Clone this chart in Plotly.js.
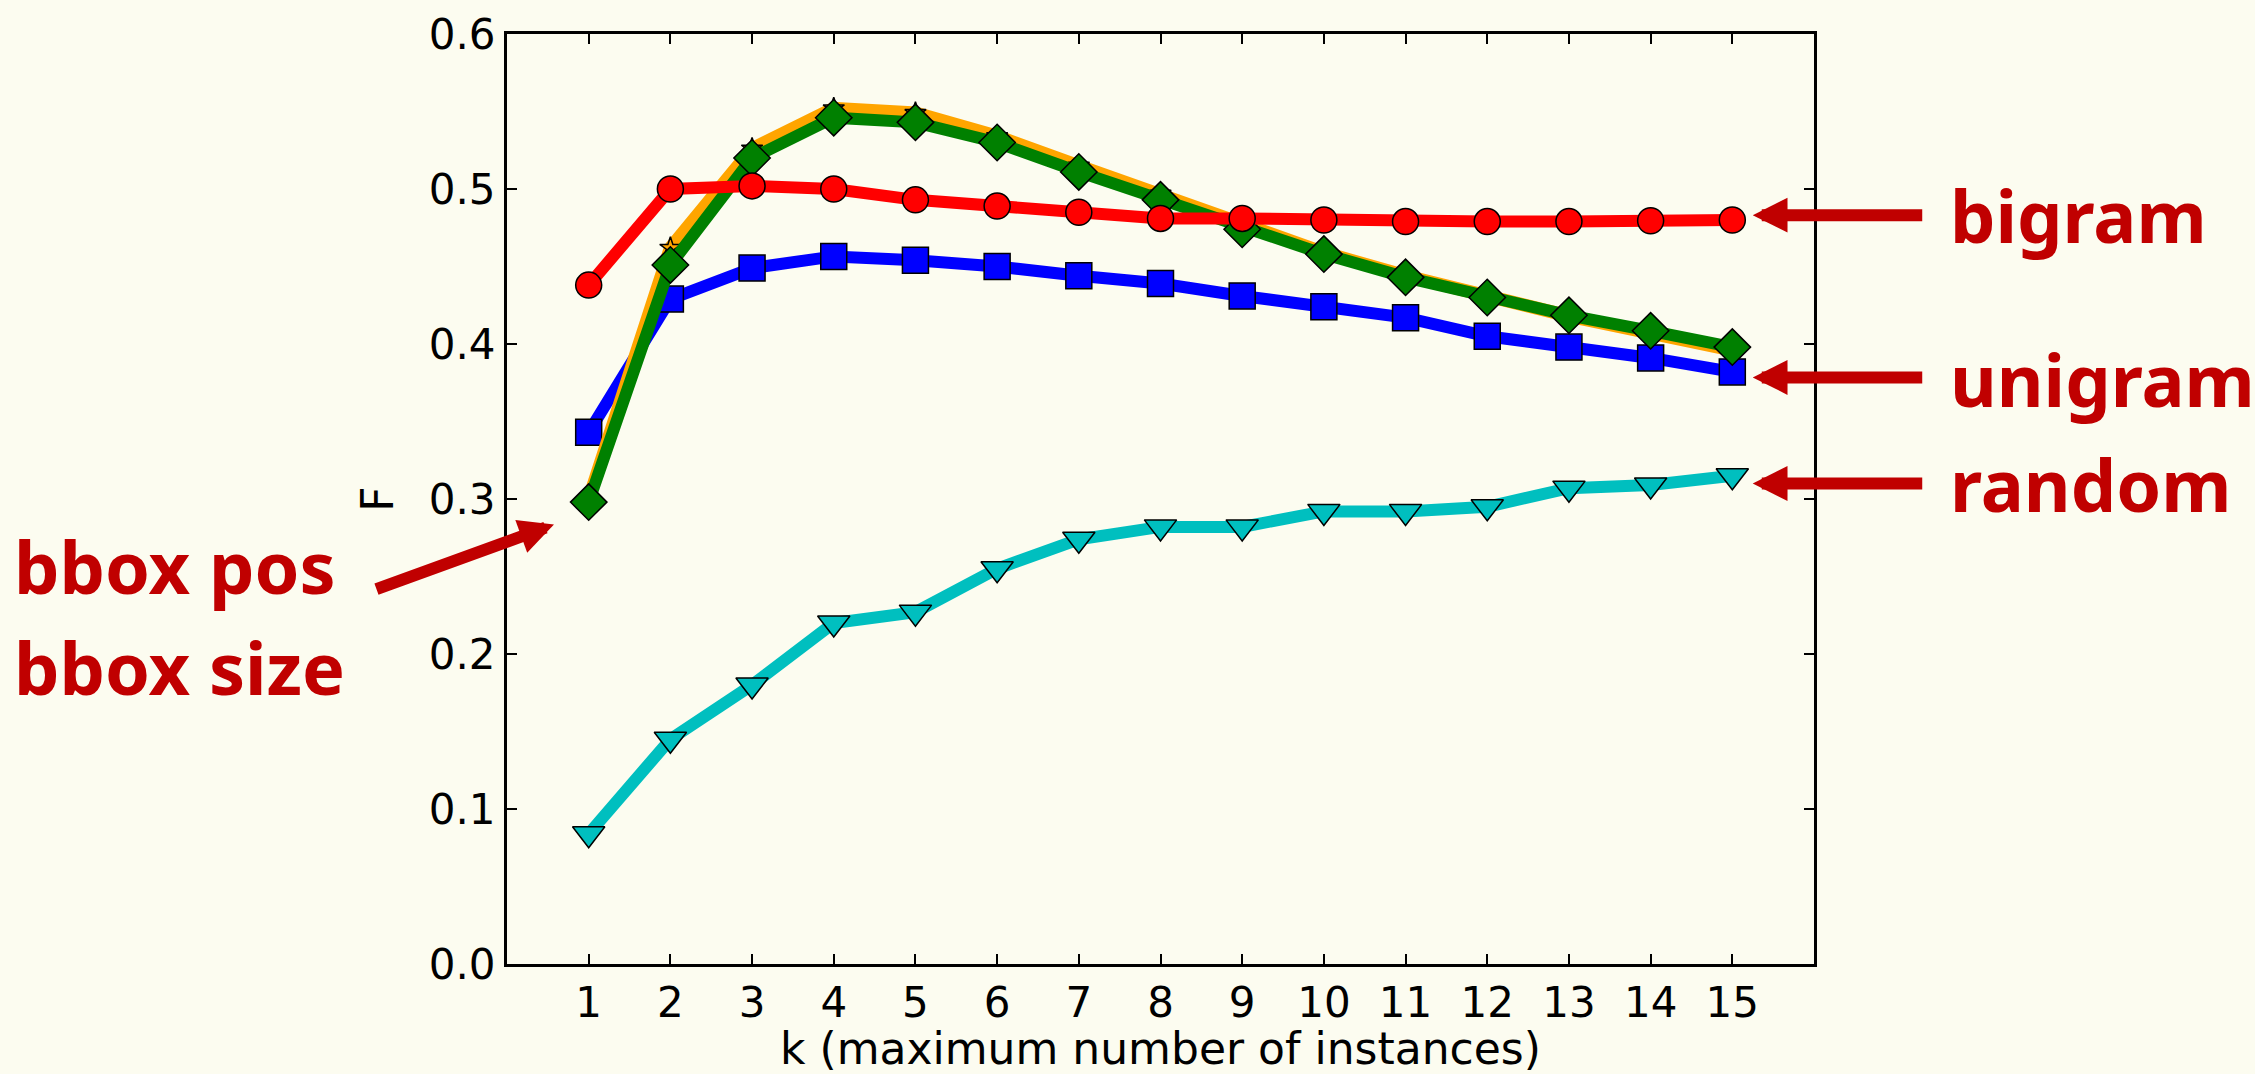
<!DOCTYPE html>
<html>
<head>
<meta charset="utf-8">
<script src="https://cdn.plot.ly/plotly-3.0.1.min.js"></script>
<style>html,body{margin:0;padding:0;background:#fcfcf0;}#chart{width:2255px;height:1074px;}</style>
</head>
<body>
<div id="chart"></div>
<script>
// k values (x axis)
const k = [1, 2, 3, 4, 5, 6, 7, 8, 9, 10, 11, 12, 13, 14, 15];
const xTickLabels = ['1','2','3','4','5','6','7','8','9','10','11','12','13','14','15'];
// F scores per series
const randomF  = [0.084, 0.145, 0.180, 0.220, 0.227, 0.255, 0.274, 0.282, 0.282, 0.292, 0.292, 0.295, 0.307, 0.309, 0.315];
const unigramF = [0.343, 0.429, 0.449, 0.4565, 0.454, 0.450, 0.444, 0.439, 0.431, 0.424, 0.417, 0.405, 0.398, 0.391, 0.382];
const bboxPosF = [0.300, 0.462, 0.526, 0.552, 0.549, 0.534, 0.515, 0.497, 0.477, 0.459, 0.444, 0.430, 0.418, 0.407, 0.396];
const bboxSizeF = [0.298, 0.451, 0.520, 0.546, 0.543, 0.530, 0.511, 0.493, 0.474, 0.458, 0.443, 0.430, 0.4185, 0.4085, 0.398];
const bigramF  = [0.438, 0.500, 0.502, 0.500, 0.493, 0.489, 0.485, 0.481, 0.481, 0.480, 0.479, 0.479, 0.479, 0.4795, 0.480];
const yTickVals = [0, 0.1, 0.2, 0.3, 0.4, 0.5, 0.6];

function series(y, color, symbol, size, lw) {
  return {
    x: k, y: y, type: 'scatter', mode: 'lines+markers',
    line: {color: color, width: lw || 12},
    marker: {color: color, symbol: symbol, size: size, line: {color: '#000', width: 1.5}},
    cliponaxis: false, showlegend: false, hoverinfo: 'x+y'
  };
}

const data = [
  series(randomF, '#00bfbf', 'triangle-down', 28),
  series(unigramF, '#0000ff', 'square', 26),
  series(bboxPosF, '#ffa500', 'star', 16, 13),
  series(bboxSizeF, '#008000', 'diamond', 28),
  series(bigramF, '#ff0000', 'circle', 26)
];

const red = '#c00000';
const labelFont = {family: 'Noto Sans, Lato, sans-serif', size: 72, color: red};
const arrowCommon = {text: ' ', font: {size: 1}, showarrow: true, arrowhead: 2, arrowsize: 0.58, arrowwidth: 12, arrowcolor: red, axref: 'pixel', ayref: 'pixel', xref: 'x', yref: 'y', standoff: 0, startstandoff: 0};

const layout = {
  width: 2255, height: 1074,
  paper_bgcolor: '#fcfcf0', plot_bgcolor: '#fcfcf0',
  margin: {l: 507, r: 441, t: 34, b: 110, pad: 0},
  font: {family: 'DejaVu Sans, sans-serif', color: '#000'},
  xaxis: {
    range: [0, 16], tickvals: k, ticktext: xTickLabels,
    ticks: 'inside', ticklen: 10, tickwidth: 1.5, tickcolor: '#000',
    showline: true, linewidth: 3, linecolor: '#000', mirror: 'ticks',
    showgrid: false, zeroline: false,
    tickfont: {family: 'DejaVu Sans', size: 42, color: '#000'},
    title: {text: 'k (maximum number of instances)', font: {family: 'DejaVu Sans', size: 44, color: '#000'}, standoff: 8}
  },
  yaxis: {
    range: [0, 0.6], tickvals: yTickVals, tickformat: '.1f',
    ticks: 'inside', ticklen: 10, tickwidth: 1.5, tickcolor: '#000',
    showline: true, linewidth: 3, linecolor: '#000', mirror: 'ticks',
    showgrid: false, zeroline: false,
    tickfont: {family: 'DejaVu Sans', size: 42, color: '#000'},
    title: {text: 'F', font: {family: 'DejaVu Sans', size: 44, color: '#000'}, standoff: 22}
  },
  annotations: [
    Object.assign({}, arrowCommon, {x: 15.25, y: 0.4831, ax: 171, ay: 0}),
    Object.assign({}, arrowCommon, {x: 15.25, y: 0.3784, ax: 171, ay: 0}),
    Object.assign({}, arrowCommon, {x: 15.25, y: 0.3100, ax: 171, ay: 0}),
    Object.assign({}, arrowCommon, {x: 0.575, y: 0.2835, ax: -179, ay: 65}),
    {text: '<b>bigram</b>', xref: 'paper', yref: 'paper', x: 1.1025, y: 0.805, xanchor: 'left', yanchor: 'middle', showarrow: false, font: labelFont},
    {text: '<b>unigram</b>', xref: 'paper', yref: 'paper', x: 1.1025, y: 0.629, xanchor: 'left', yanchor: 'middle', showarrow: false, font: labelFont},
    {text: '<b>random</b>', xref: 'paper', yref: 'paper', x: 1.1025, y: 0.516, xanchor: 'left', yanchor: 'middle', showarrow: false, font: labelFont},
    {text: '<b>bbox pos</b>', xref: 'paper', yref: 'paper', x: -0.379, y: 0.428, xanchor: 'left', yanchor: 'middle', showarrow: false, font: labelFont},
    {text: '<b>bbox size</b>', xref: 'paper', yref: 'paper', x: -0.379, y: 0.319, xanchor: 'left', yanchor: 'middle', showarrow: false, font: labelFont}
  ]
};

Plotly.newPlot('chart', data, layout, {displayModeBar: false, responsive: false});
</script>
</body>
</html>
